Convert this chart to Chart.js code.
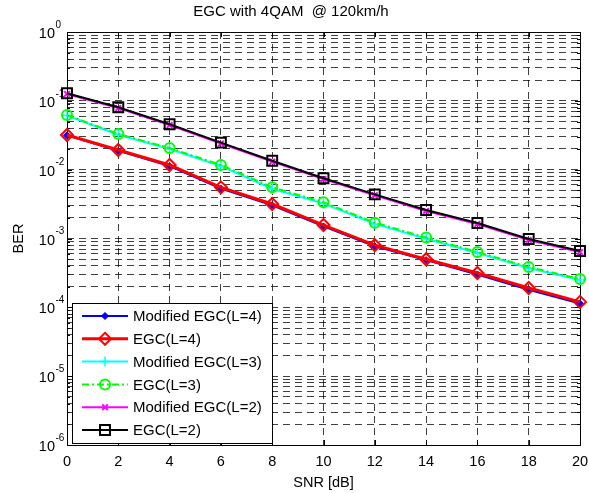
<!DOCTYPE html>
<html>
<head>
<meta charset="utf-8">
<script src="https://cdn.jsdelivr.net/npm/chart.js@4.4.1/dist/chart.umd.min.js"></script>
<style>
    html, body { margin: 0; padding: 0; background: #fff; }
    #wrap { width: 589px; height: 493px; }
</style>
</head>
<body>
<div id="wrap"><canvas id="berChart"></canvas></div>
<script>
// SNR axis (dB)
const snr = [0, 2, 4, 6, 8, 10, 12, 14, 16, 18, 20];

// BER values
const berModL4 = [0.0315, 0.0188, 0.0113, 0.0053, 0.00303, 0.00150, 0.00077, 0.000485, 0.000300, 0.000180, 0.000114];
const berEgcL4 = [0.0319, 0.0193, 0.0117, 0.00554, 0.00317, 0.00157, 0.00080, 0.000499, 0.000315, 0.000191, 0.000120];
const berModL3 = [0.0612, 0.0322, 0.0200, 0.0113, 0.00525, 0.00322, 0.00163, 0.00099, 0.000615, 0.000372, 0.000250];
const berEgcL3 = [0.0622, 0.0330, 0.0206, 0.0117, 0.00554, 0.00336, 0.00170, 0.00103, 0.000637, 0.000385, 0.000258];
const berModL2 = [0.1260, 0.0785, 0.0445, 0.0240, 0.0131, 0.00728, 0.00425, 0.00251, 0.00162, 0.00095, 0.000636];
const berEgcL2 = [0.1286, 0.0805, 0.0456, 0.0247, 0.0135, 0.00749, 0.00438, 0.00259, 0.00168, 0.000984, 0.000658];

// tick labels
const xTicks = [0, 2, 4, 6, 8, 10, 12, 14, 16, 18, 20];
const yDecades = [-6, -5, -4, -3, -2, -1, 0];
const yMinor = [2, 3, 4, 5, 6, 7, 8, 9];

const FONT = "'Liberation Sans', Arial, sans-serif";

function pts(ys) {
    return snr.map((x, i) => ({ x: x, y: ys[i] }));
}

// marker drawing for the legend (same shapes as Chart.js point styles)
function drawMarker(ctx, ds, x, y) {
    const r = ds.pointRadius;
    ctx.save();
    ctx.setLineDash([]);
    ctx.lineWidth = ds.pointBorderWidth;
    ctx.strokeStyle = ds.borderColor;
    ctx.fillStyle = ds.pointBackgroundColor;
    ctx.beginPath();
    switch (ds.pointStyle) {
        case 'rect': {
            const s = Math.SQRT1_2 * r;
            ctx.rect(x - s, y - s, 2 * s, 2 * s);
            break;
        }
        case 'rectRot':
            ctx.moveTo(x, y - r); ctx.lineTo(x + r, y); ctx.lineTo(x, y + r); ctx.lineTo(x - r, y);
            ctx.closePath();
            break;
        case 'circle':
            ctx.arc(x, y, r, 0, Math.PI * 2);
            break;
        case 'cross':
            ctx.moveTo(x, y - r); ctx.lineTo(x, y + r); ctx.moveTo(x - r, y); ctx.lineTo(x + r, y);
            break;
        case 'crossRot': {
            const d = Math.SQRT1_2 * r;
            ctx.moveTo(x - d, y - d); ctx.lineTo(x + d, y + d); ctx.moveTo(x - d, y + d); ctx.lineTo(x + d, y - d);
            break;
        }
    }
    ctx.fill();
    ctx.stroke();
    ctx.restore();
}

// MATLAB style box, inward ticks, 10^n labels and legend
const matlabAxes = {
    id: 'matlabAxes',
    beforeDatasetsDraw(chart) {
        const { ctx, chartArea: a, scales } = chart;
        ctx.save();
        ctx.strokeStyle = '#000';
        ctx.lineWidth = 1;
        ctx.setLineDash([]);
        ctx.strokeRect(Math.round(a.left) + 0.5, Math.round(a.top) + 0.5,
            Math.round(a.right - a.left), Math.round(a.bottom - a.top));
        ctx.beginPath();
        xTicks.forEach(v => {
            const px = Math.round(scales.x.getPixelForValue(v)) + 0.5;
            ctx.moveTo(px, a.bottom); ctx.lineTo(px, a.bottom - 5);
            ctx.moveTo(px, a.top); ctx.lineTo(px, a.top + 5);
        });
        scales.y.ticks.forEach(t => {
            const py = Math.round(scales.y.getPixelForValue(t.value)) + 0.5;
            const len = t.major ? 5 : 3;
            ctx.moveTo(a.left, py); ctx.lineTo(a.left + len, py);
            ctx.moveTo(a.right, py); ctx.lineTo(a.right - len, py);
        });
        ctx.stroke();
        ctx.restore();
    },
    afterDraw(chart) {
        const { ctx, chartArea: a, scales } = chart;
        ctx.save();
        ctx.fillStyle = '#000';

        // x tick labels
        ctx.font = '14.5px ' + FONT;
        ctx.textAlign = 'center';
        ctx.textBaseline = 'middle';
        xTicks.forEach(v => {
            ctx.fillText(String(v), scales.x.getPixelForValue(v), a.bottom + 17);
        });

        // y tick labels 10^n
        yDecades.forEach(e => {
            const py = scales.y.getPixelForValue(Math.pow(10, e));
            ctx.font = '14.5px ' + FONT;
            ctx.textAlign = 'right';
            ctx.fillText('10', a.left - 12, py + 2);
            ctx.font = '10px ' + FONT;
            ctx.textAlign = 'left';
            ctx.fillText(String(e), a.left - 11.5, py - 7);
        });

        // legend
        const box = { x: a.left + 5, y: 303, w: 200, h: 140 };
        ctx.fillStyle = '#fff';
        ctx.fillRect(box.x, box.y, box.w, box.h);
        ctx.strokeStyle = '#000';
        ctx.lineWidth = 1;
        ctx.strokeRect(box.x + 0.5, box.y + 0.5, box.w, box.h);
        ctx.font = '15px ' + FONT;
        ctx.textAlign = 'left';
        ctx.textBaseline = 'middle';
        chart.data.datasets.forEach((ds, i) => {
            const ry = box.y + 13 + i * 22.8;
            ctx.save();
            ctx.strokeStyle = ds.borderColor;
            ctx.lineWidth = ds.borderWidth;
            ctx.setLineDash(ds.borderDash || []);
            ctx.beginPath();
            ctx.moveTo(box.x + 10, ry);
            ctx.lineTo(box.x + 56, ry);
            ctx.stroke();
            ctx.restore();
            drawMarker(ctx, ds, box.x + 33, ry);
            ctx.fillStyle = '#000';
            ctx.fillText(ds.label, box.x + 61, ry + 1);
        });
        ctx.restore();
    }
};

const ctx = document.getElementById('berChart').getContext('2d');
const berChart = new Chart(ctx, {
    type: 'line',
    data: {
        datasets: [
            {
                label: 'Modified EGC(L=4)',
                data: pts(berModL4),
                borderColor: '#0000ff',
                borderWidth: 2,
                pointStyle: 'rectRot',
                pointRadius: 3.5,
                pointBorderWidth: 1,
                pointBackgroundColor: '#0000ff',
                order: 1,
            },
            {
                label: 'EGC(L=4)',
                data: pts(berEgcL4),
                borderColor: '#ff0000',
                borderWidth: 3,
                pointStyle: 'rectRot',
                pointRadius: 6,
                pointBorderWidth: 2,
                pointBackgroundColor: 'rgba(0,0,0,0)',
                order: 0,
            },
            {
                label: 'Modified EGC(L=3)',
                data: pts(berModL3),
                borderColor: '#00ffff',
                borderWidth: 2,
                pointStyle: 'cross',
                pointRadius: 5,
                pointBorderWidth: 1.5,
                pointBackgroundColor: 'rgba(0,0,0,0)',
                order: 1,
            },
            {
                label: 'EGC(L=3)',
                data: pts(berEgcL3),
                borderColor: '#00ff00',
                borderWidth: 2,
                borderDash: [7, 3, 2, 3],
                pointStyle: 'circle',
                pointRadius: 5,
                pointBorderWidth: 2,
                pointBackgroundColor: 'rgba(0,0,0,0)',
                order: 0,
            },
            {
                label: 'Modified EGC(L=2)',
                data: pts(berModL2),
                borderColor: '#ff00ff',
                borderWidth: 2,
                pointStyle: 'crossRot',
                pointRadius: 4,
                pointBorderWidth: 2,
                pointBackgroundColor: 'rgba(0,0,0,0)',
                order: 1,
            },
            {
                label: 'EGC(L=2)',
                data: pts(berEgcL2),
                borderColor: '#000000',
                borderWidth: 2,
                pointStyle: 'rect',
                pointRadius: 7,
                pointBorderWidth: 2,
                pointBackgroundColor: 'rgba(0,0,0,0)',
                order: 0,
            },
        ],
    },
    options: {
        responsive: true,
        maintainAspectRatio: false,
        animation: false,
        layout: { padding: { left: 0, right: 7, top: 0, bottom: 0 } },
        elements: { line: { tension: 0, fill: false }, point: { hoverRadius: 0 } },
        datasets: { line: { clip: false } },
        plugins: {
            legend: { display: false },
            tooltip: { enabled: false },
            title: {
                display: true,
                text: 'EGC with 4QAM  @ 120km/h',
                color: '#000',
                font: { family: FONT, size: 15, weight: 'normal', lineHeight: 1.2 },
                padding: { top: 3, bottom: 11 },
            },
        },
        scales: {
            x: {
                type: 'linear',
                min: 0,
                max: 20,
                afterBuildTicks: (axis) => { axis.ticks = xTicks.map(v => ({ value: v })); },
                afterFit: (axis) => { axis.height = 48; },
                ticks: { display: false },
                grid: { color: 'rgba(0,0,0,0.75)', lineWidth: 1, drawTicks: false },
                border: { display: false, dash: [7, 5] },
                title: {
                    display: true,
                    text: 'SNR [dB]',
                    color: '#000',
                    font: { family: FONT, size: 14.5, lineHeight: 1.2 },
                    padding: { top: 0, bottom: 1.5 },
                },
            },
            y: {
                type: 'logarithmic',
                min: 1e-6,
                max: 1,
                afterBuildTicks: (axis) => {
                    const list = [];
                    yDecades.forEach(e => {
                        list.push({ value: Math.pow(10, e), major: true });
                        if (e < 0) yMinor.forEach(m => list.push({ value: m * Math.pow(10, e), major: false }));
                    });
                    axis.ticks = list;
                },
                afterFit: (axis) => { axis.width = 67; },
                ticks: { display: false },
                grid: { color: 'rgba(0,0,0,0.75)', lineWidth: 1, drawTicks: false },
                border: { display: false, dash: [7, 5] },
                title: {
                    display: true,
                    text: 'BER',
                    color: '#000',
                    font: { family: FONT, size: 14.5, lineHeight: 1.2 },
                    padding: { top: 10, bottom: 0 },
                },
            },
        },
    },
    plugins: [matlabAxes],
});
</script>
</body>
</html>
